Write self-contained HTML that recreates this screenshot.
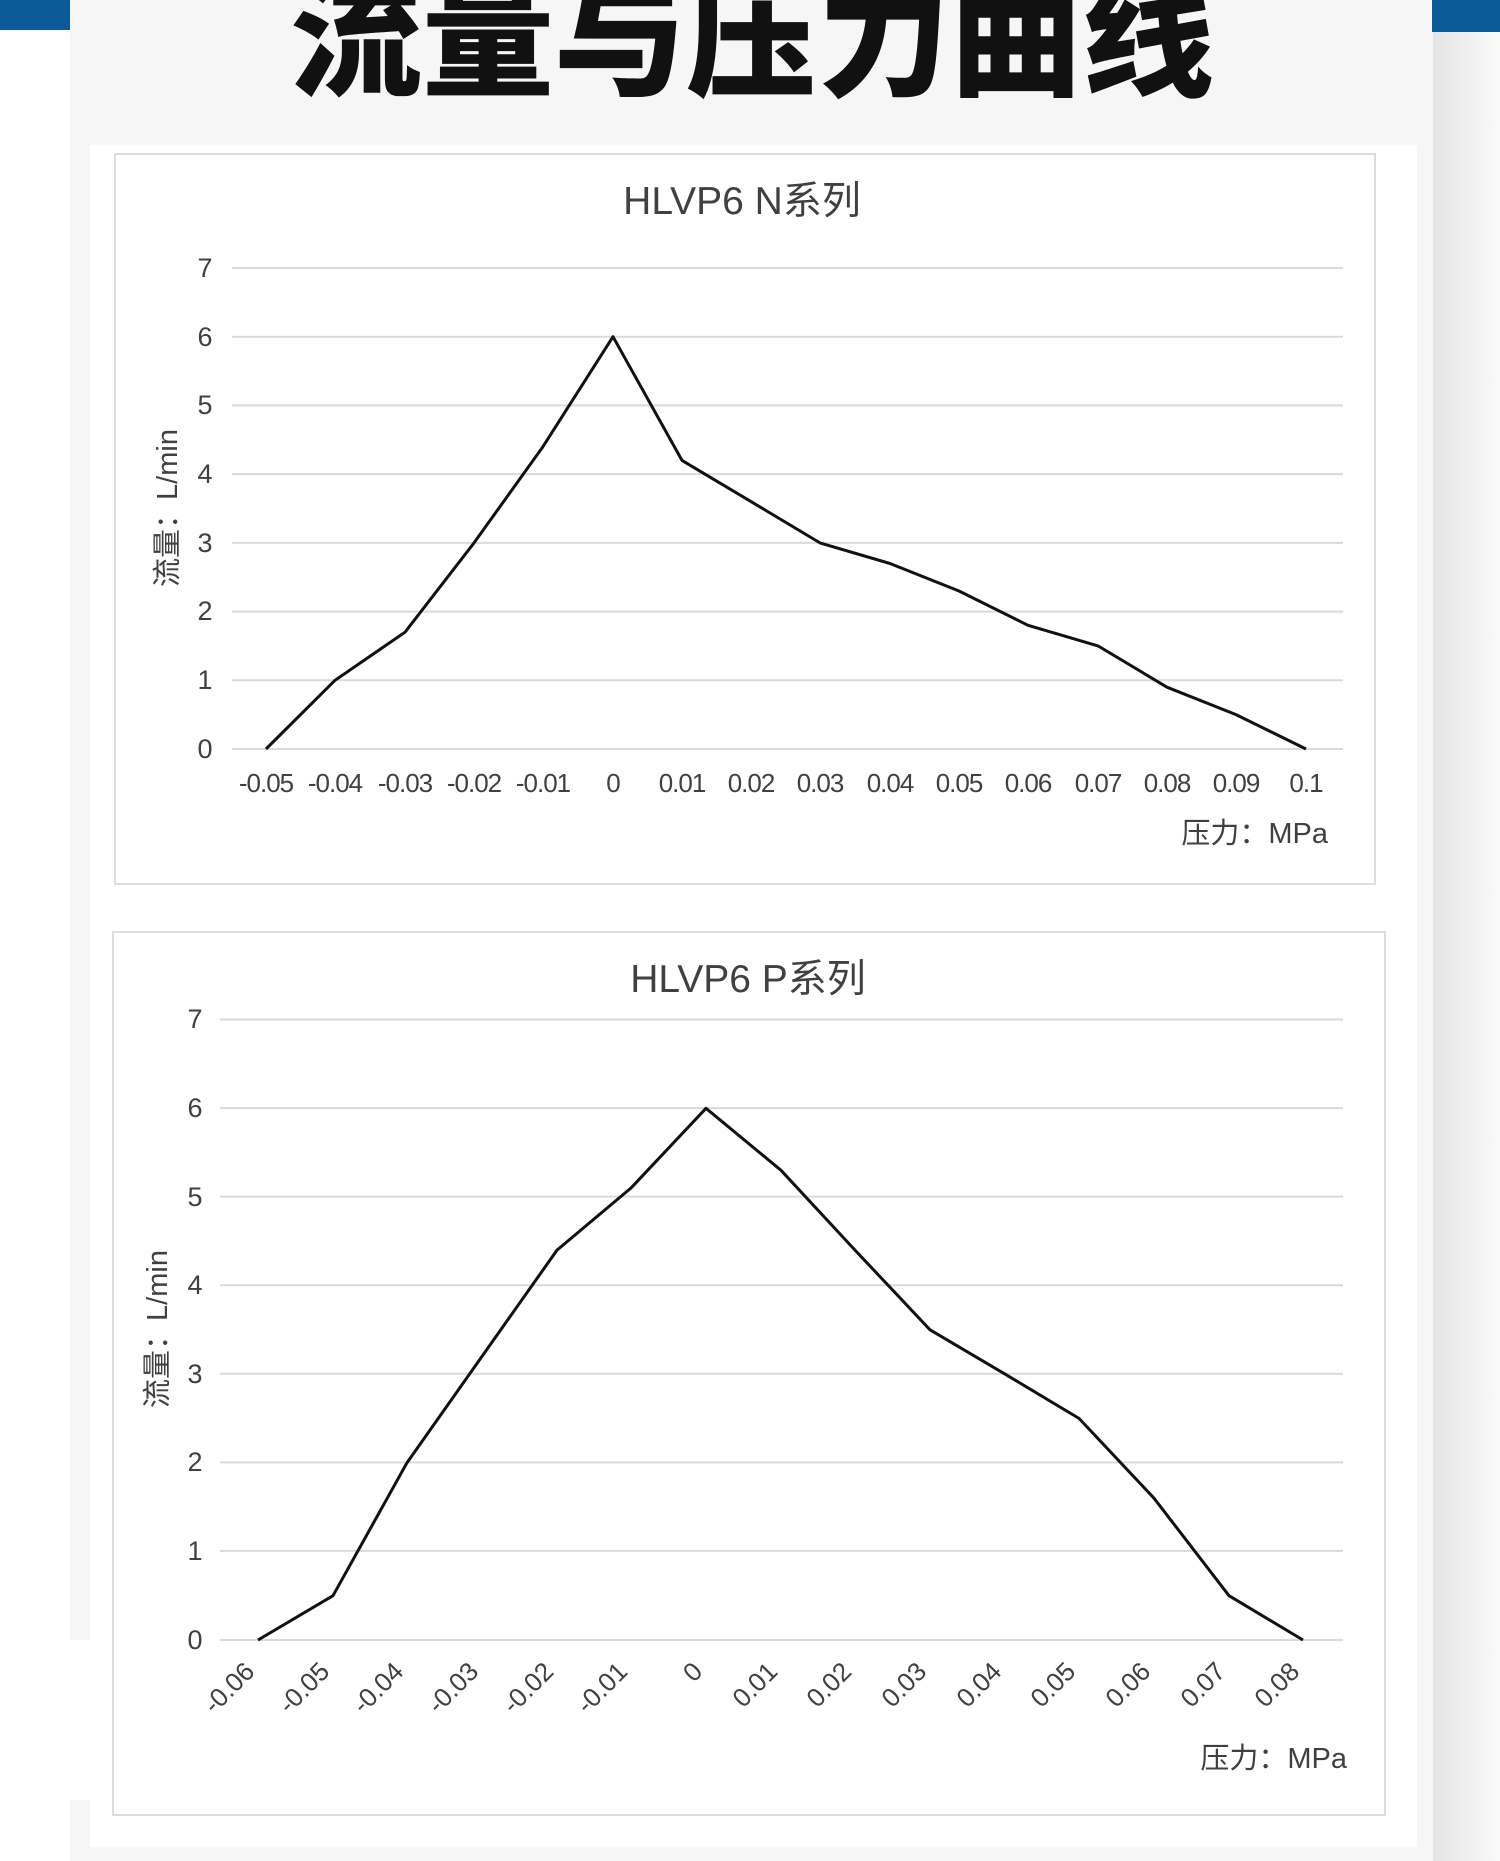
<!DOCTYPE html>
<html><head><meta charset="utf-8"><style>
html,body{margin:0;padding:0;background:#fff;}
svg{display:block;}
text{font-family:"Liberation Sans","Noto Sans CJK SC",sans-serif;fill:#404040;}
</style></head><body>
<svg width="1500" height="1861" viewBox="0 0 1500 1861" xmlns="http://www.w3.org/2000/svg">
<defs>
<linearGradient id="rg" x1="0" x2="1" y1="0" y2="0"><stop offset="0" stop-color="#e4e4e4"/><stop offset="1" stop-color="#fafafa"/></linearGradient>
</defs>
<rect x="0" y="0" width="1500" height="1861" fill="#fff"/>
<rect x="1432" y="0" width="68" height="1861" fill="url(#rg)"/>
<rect x="70" y="0" width="1363" height="1861" fill="#f6f6f6"/>
<rect x="0" y="0" width="70" height="30" fill="#0b5b98"/>
<rect x="1432" y="0" width="68" height="32" fill="#0b5b98"/>
<rect x="90" y="145" width="1327" height="1702" fill="#fff"/>
<rect x="0" y="1640" width="90" height="160" fill="#fff"/>
<text x="752" y="86" text-anchor="middle" style="font-family:'Noto Sans CJK SC',sans-serif;font-weight:900;font-size:132px;fill:#111;">流量与压力曲线</text>

<!-- Chart 1 -->
<rect x="115" y="154" width="1260" height="730" fill="#fff" stroke="#dcdcdc" stroke-width="2"/>
<text x="742" y="214" text-anchor="middle" font-size="39">HLVP6 N系列</text>
<g stroke="#dadada" stroke-width="2">
<line x1="232" x2="1343" y1="268" y2="268"/><line x1="232" x2="1343" y1="336.7" y2="336.7"/>
<line x1="232" x2="1343" y1="405.4" y2="405.4"/><line x1="232" x2="1343" y1="474.1" y2="474.1"/>
<line x1="232" x2="1343" y1="542.9" y2="542.9"/><line x1="232" x2="1343" y1="611.6" y2="611.6"/>
<line x1="232" x2="1343" y1="680.3" y2="680.3"/><line x1="232" x2="1343" y1="749" y2="749"/>
</g>
<g font-size="27" text-anchor="middle">
<text x="205" y="277">7</text><text x="205" y="346">6</text><text x="205" y="414">5</text><text x="205" y="483">4</text><text x="205" y="552">3</text><text x="205" y="620">2</text><text x="205" y="689">1</text><text x="205" y="758">0</text>
</g>
<text transform="translate(177,508) rotate(-90)" text-anchor="middle" font-size="29">流量：L/min</text>
<g font-size="26" text-anchor="middle" letter-spacing="-1">
<text x="266" y="792">-0.05</text><text x="335" y="792">-0.04</text><text x="405" y="792">-0.03</text><text x="474" y="792">-0.02</text><text x="543" y="792">-0.01</text><text x="613" y="792">0</text><text x="682" y="792">0.01</text><text x="751" y="792">0.02</text><text x="820" y="792">0.03</text><text x="890" y="792">0.04</text><text x="959" y="792">0.05</text><text x="1028" y="792">0.06</text><text x="1098" y="792">0.07</text><text x="1167" y="792">0.08</text><text x="1236" y="792">0.09</text><text x="1306" y="792">0.1</text>
</g>
<text x="1328" y="843" text-anchor="end" font-size="29">压力：MPa</text>
<polyline fill="none" stroke="#111" stroke-width="3" stroke-linejoin="round" points="266,749 335,680.3 405,632.2 474,542.9 543,446.6 613,336.7 682,460.4 751,501.6 820,542.9 890,563.5 959,591 1028,625.3 1098,645.9 1167,687.2 1236,714.6 1306,749"/>

<!-- Chart 2 -->
<rect x="113" y="932" width="1272" height="883" fill="#fff" stroke="#dcdcdc" stroke-width="2"/>
<text x="748" y="992" text-anchor="middle" font-size="39">HLVP6  P系列</text>
<g stroke="#dadada" stroke-width="2">
<line x1="220" x2="1343" y1="1019.5" y2="1019.5"/><line x1="220" x2="1343" y1="1108.1" y2="1108.1"/>
<line x1="220" x2="1343" y1="1196.6" y2="1196.6"/><line x1="220" x2="1343" y1="1285.2" y2="1285.2"/>
<line x1="220" x2="1343" y1="1373.8" y2="1373.8"/><line x1="220" x2="1343" y1="1462.4" y2="1462.4"/>
<line x1="220" x2="1343" y1="1550.9" y2="1550.9"/><line x1="220" x2="1343" y1="1640" y2="1640"/>
</g>
<g font-size="27" text-anchor="middle">
<text x="195" y="1028">7</text><text x="195" y="1117">6</text><text x="195" y="1206">5</text><text x="195" y="1294">4</text><text x="195" y="1383">3</text><text x="195" y="1471">2</text><text x="195" y="1560">1</text><text x="195" y="1649">0</text>
</g>
<text transform="translate(167,1329) rotate(-90)" text-anchor="middle" font-size="29">流量：L/min</text>
<g font-size="26" text-anchor="end">
<text transform="translate(256,1673) rotate(-45)">-0.06</text>
<text transform="translate(331,1673) rotate(-45)">-0.05</text>
<text transform="translate(405,1673) rotate(-45)">-0.04</text>
<text transform="translate(480,1673) rotate(-45)">-0.03</text>
<text transform="translate(555,1673) rotate(-45)">-0.02</text>
<text transform="translate(629,1673) rotate(-45)">-0.01</text>
<text transform="translate(704,1673) rotate(-45)">0</text>
<text transform="translate(779,1673) rotate(-45)">0.01</text>
<text transform="translate(853,1673) rotate(-45)">0.02</text>
<text transform="translate(928,1673) rotate(-45)">0.03</text>
<text transform="translate(1003,1673) rotate(-45)">0.04</text>
<text transform="translate(1077,1673) rotate(-45)">0.05</text>
<text transform="translate(1152,1673) rotate(-45)">0.06</text>
<text transform="translate(1227,1673) rotate(-45)">0.07</text>
<text transform="translate(1301,1673) rotate(-45)">0.08</text>
</g>
<text x="1347" y="1768" text-anchor="end" font-size="29">压力：MPa</text>
<polyline fill="none" stroke="#111" stroke-width="3" stroke-linejoin="round" points="258,1640 333,1595.7 407,1462.7 482,1356.4 557,1250.1 631,1188 706,1108.3 781,1170.3 855,1250.1 930,1329.8 1005,1374.1 1079,1418.4 1154,1498.2 1229,1595.7 1303,1640"/>
</svg>
</body></html>
